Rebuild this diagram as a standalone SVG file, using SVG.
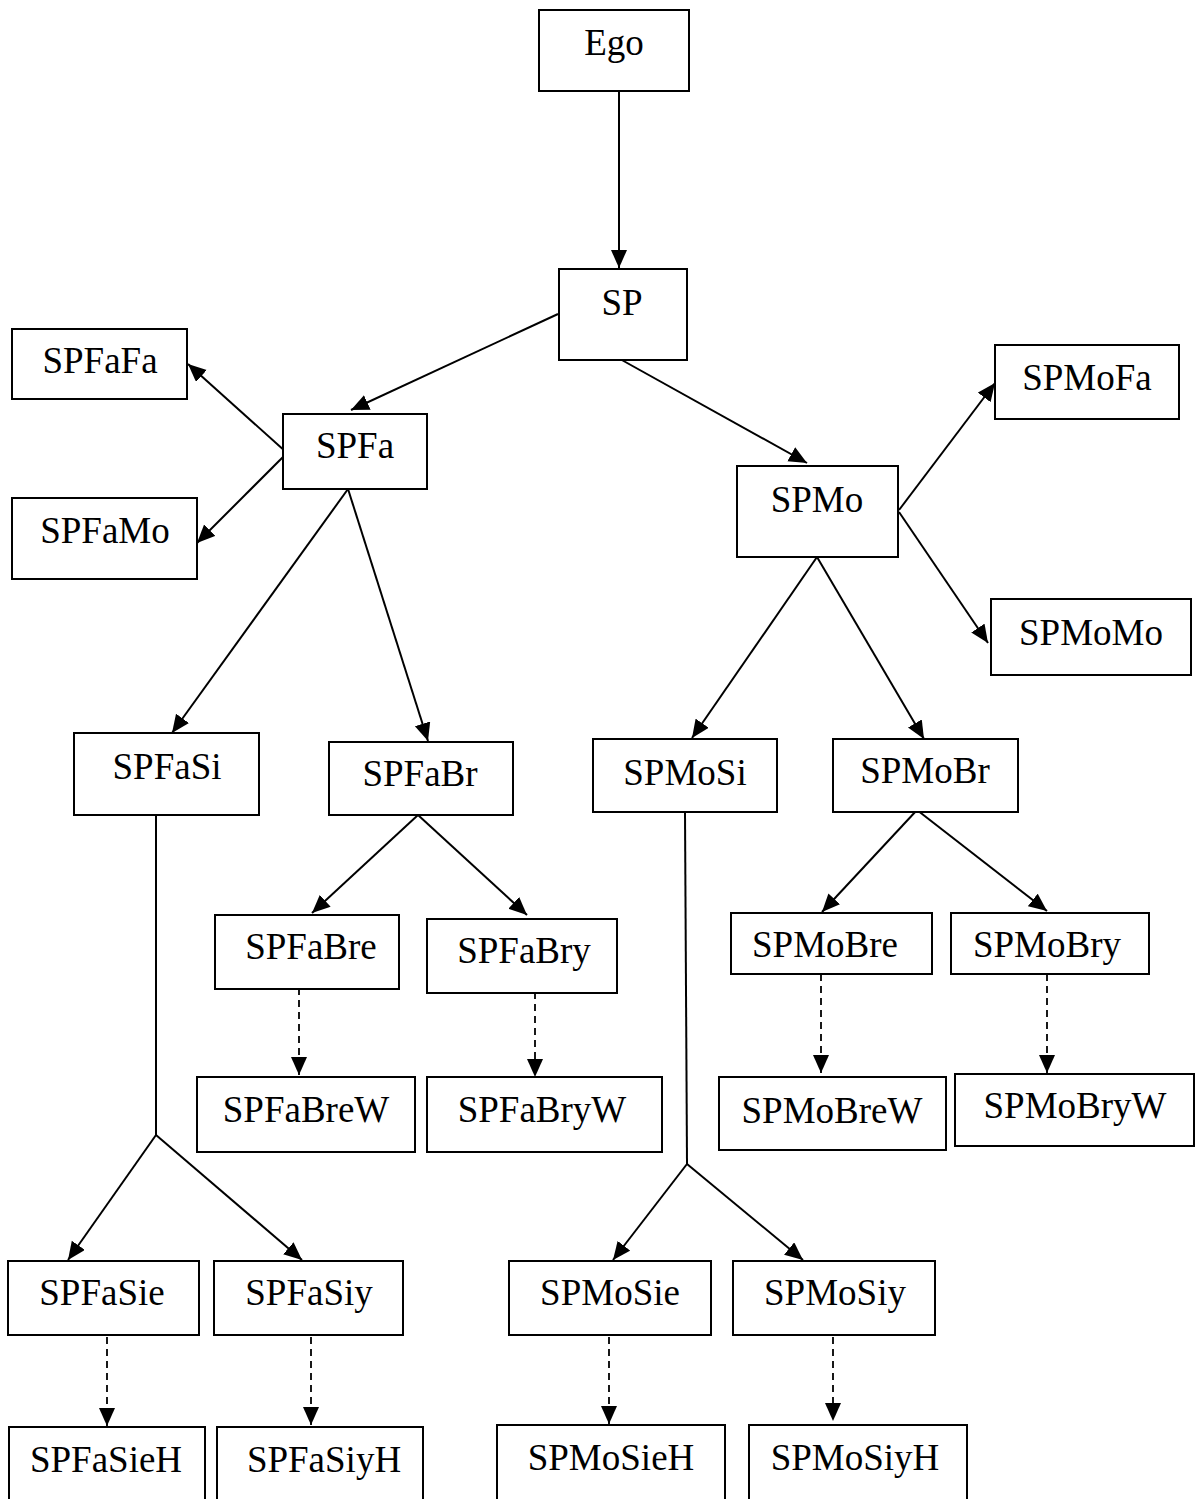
<svg xmlns="http://www.w3.org/2000/svg" width="1197" height="1499" viewBox="0 0 1197 1499">
  <style>
    .box { fill: #ffffff; stroke: #000000; stroke-width: 2; }
    .lbl { font-family: "Liberation Serif", "Times New Roman", serif; font-size: 37px; fill: #000000; text-anchor: middle; }
    .edge { fill: none; stroke: #000000; stroke-width: 2; }
    .arr { marker-end: url(#head); }
    .dash { stroke-width: 1.8; stroke-dasharray: 7 5; }
  </style>
  <defs>
    <marker id="head" markerUnits="userSpaceOnUse" markerWidth="19" markerHeight="17" refX="18" refY="8" orient="auto">
      <path d="M0,0 L18,8 L0,16 z" fill="#000000"/>
    </marker>
  </defs>
  <rect width="1197" height="1499" fill="#ffffff"/>

  <g id="connectors">
    <line class="edge arr" x1="619" y1="91" x2="619" y2="268"/>
    <line class="edge arr" x1="558" y1="314" x2="351" y2="410"/>
    <line class="edge arr" x1="620" y1="359" x2="807" y2="463"/>
    <line class="edge arr" x1="286" y1="452" x2="188" y2="364"/>
    <line class="edge arr" x1="285" y1="455" x2="197" y2="543"/>
    <line class="edge arr" x1="348" y1="489" x2="172" y2="733"/>
    <line class="edge arr" x1="348" y1="489" x2="428" y2="741"/>
    <line class="edge arr" x1="899" y1="510" x2="995" y2="383"/>
    <line class="edge arr" x1="899" y1="512" x2="988" y2="643"/>
    <line class="edge arr" x1="817" y1="557" x2="692" y2="738"/>
    <line class="edge arr" x1="817" y1="557" x2="924" y2="739"/>
    <line class="edge arr" x1="418" y1="815" x2="312" y2="913"/>
    <line class="edge arr" x1="418" y1="815" x2="527" y2="915"/>
    <line class="edge arr dash" x1="299" y1="988" x2="299" y2="1075"/>
    <line class="edge arr dash" x1="535" y1="992" x2="535" y2="1077"/>
    <line class="edge arr" x1="917" y1="810" x2="822" y2="912"/>
    <line class="edge arr" x1="917" y1="810" x2="1047" y2="911"/>
    <line class="edge arr dash" x1="821" y1="974" x2="821" y2="1073"/>
    <line class="edge arr dash" x1="1047" y1="974" x2="1047" y2="1073"/>
    <line class="edge" x1="156" y1="815" x2="156" y2="1135"/>
    <line class="edge arr" x1="156" y1="1135" x2="68" y2="1260"/>
    <line class="edge arr" x1="156" y1="1135" x2="302" y2="1260"/>
    <line class="edge arr dash" x1="107" y1="1337" x2="107" y2="1426"/>
    <line class="edge arr dash" x1="311" y1="1337" x2="311" y2="1425"/>
    <line class="edge" x1="685" y1="813" x2="687" y2="1164"/>
    <line class="edge arr" x1="687" y1="1164" x2="613" y2="1260"/>
    <line class="edge arr" x1="687" y1="1164" x2="803" y2="1260"/>
    <line class="edge arr dash" x1="609" y1="1337" x2="609" y2="1424"/>
    <line class="edge arr dash" x1="833" y1="1337" x2="833" y2="1421"/>
  </g>

  <g id="Ego"><rect class="box" x="539" y="10" width="150" height="81"/><text class="lbl" x="614" y="55">Ego</text></g>
  <g id="SP"><rect class="box" x="559" y="269" width="128" height="91"/><text class="lbl" x="622" y="315">SP</text></g>
  <g id="SPFa"><rect class="box" x="283" y="414" width="144" height="75"/><text class="lbl" x="355" y="458">SPFa</text></g>
  <g id="SPMo"><rect class="box" x="737" y="466" width="161" height="91"/><text class="lbl" x="817" y="512">SPMo</text></g>
  <g id="SPFaFa"><rect class="box" x="12" y="329" width="175" height="70"/><text class="lbl" x="100" y="373">SPFaFa</text></g>
  <g id="SPFaMo"><rect class="box" x="12" y="498" width="185" height="81"/><text class="lbl" x="105" y="543">SPFaMo</text></g>
  <g id="SPMoFa"><rect class="box" x="995" y="345" width="184" height="74"/><text class="lbl" x="1087" y="390">SPMoFa</text></g>
  <g id="SPMoMo"><rect class="box" x="991" y="599" width="200" height="76"/><text class="lbl" x="1091" y="645">SPMoMo</text></g>

  <g id="SPFaSi"><rect class="box" x="74" y="733" width="185" height="82"/><text class="lbl" x="167" y="779">SPFaSi</text></g>
  <g id="SPFaBr"><rect class="box" x="329" y="742" width="184" height="73"/><text class="lbl" x="420" y="786">SPFaBr</text></g>
  <g id="SPMoSi"><rect class="box" x="593" y="739" width="184" height="73"/><text class="lbl" x="685" y="785">SPMoSi</text></g>
  <g id="SPMoBr"><rect class="box" x="833" y="739" width="185" height="73"/><text class="lbl" x="925" y="783">SPMoBr</text></g>

  <g id="SPFaBre"><rect class="box" x="215" y="915" width="184" height="74"/><text class="lbl" x="311" y="959">SPFaBre</text></g>
  <g id="SPFaBry"><rect class="box" x="427" y="919" width="190" height="74"/><text class="lbl" x="524" y="963">SPFaBry</text></g>
  <g id="SPMoBre"><rect class="box" x="731" y="913" width="201" height="61"/><text class="lbl" x="825" y="957">SPMoBre</text></g>
  <g id="SPMoBry"><rect class="box" x="951" y="913" width="198" height="61"/><text class="lbl" x="1047" y="957">SPMoBry</text></g>

  <g id="SPFaBreW"><rect class="box" x="197" y="1077" width="218" height="75"/><text class="lbl" x="306" y="1122">SPFaBreW</text></g>
  <g id="SPFaBryW"><rect class="box" x="427" y="1077" width="235" height="75"/><text class="lbl" x="542" y="1122">SPFaBryW</text></g>
  <g id="SPMoBreW"><rect class="box" x="719" y="1077" width="227" height="73"/><text class="lbl" x="832" y="1123">SPMoBreW</text></g>
  <g id="SPMoBryW"><rect class="box" x="955" y="1074" width="239" height="72"/><text class="lbl" x="1075" y="1118">SPMoBryW</text></g>

  <g id="SPFaSie"><rect class="box" x="8" y="1261" width="191" height="74"/><text class="lbl" x="102" y="1305">SPFaSie</text></g>
  <g id="SPFaSiy"><rect class="box" x="214" y="1261" width="189" height="74"/><text class="lbl" x="309" y="1305">SPFaSiy</text></g>
  <g id="SPMoSie"><rect class="box" x="509" y="1261" width="202" height="74"/><text class="lbl" x="610" y="1305">SPMoSie</text></g>
  <g id="SPMoSiy"><rect class="box" x="733" y="1261" width="202" height="74"/><text class="lbl" x="835" y="1305">SPMoSiy</text></g>

  <g id="SPFaSieH"><rect class="box" x="9" y="1427" width="196" height="90"/><text class="lbl" x="106" y="1472">SPFaSieH</text></g>
  <g id="SPFaSiyH"><rect class="box" x="217" y="1427" width="206" height="90"/><text class="lbl" x="324" y="1472">SPFaSiyH</text></g>
  <g id="SPMoSieH"><rect class="box" x="497" y="1425" width="228" height="92"/><text class="lbl" x="611" y="1470">SPMoSieH</text></g>
  <g id="SPMoSiyH"><rect class="box" x="749" y="1425" width="218" height="92"/><text class="lbl" x="855" y="1470">SPMoSiyH</text></g>
</svg>
